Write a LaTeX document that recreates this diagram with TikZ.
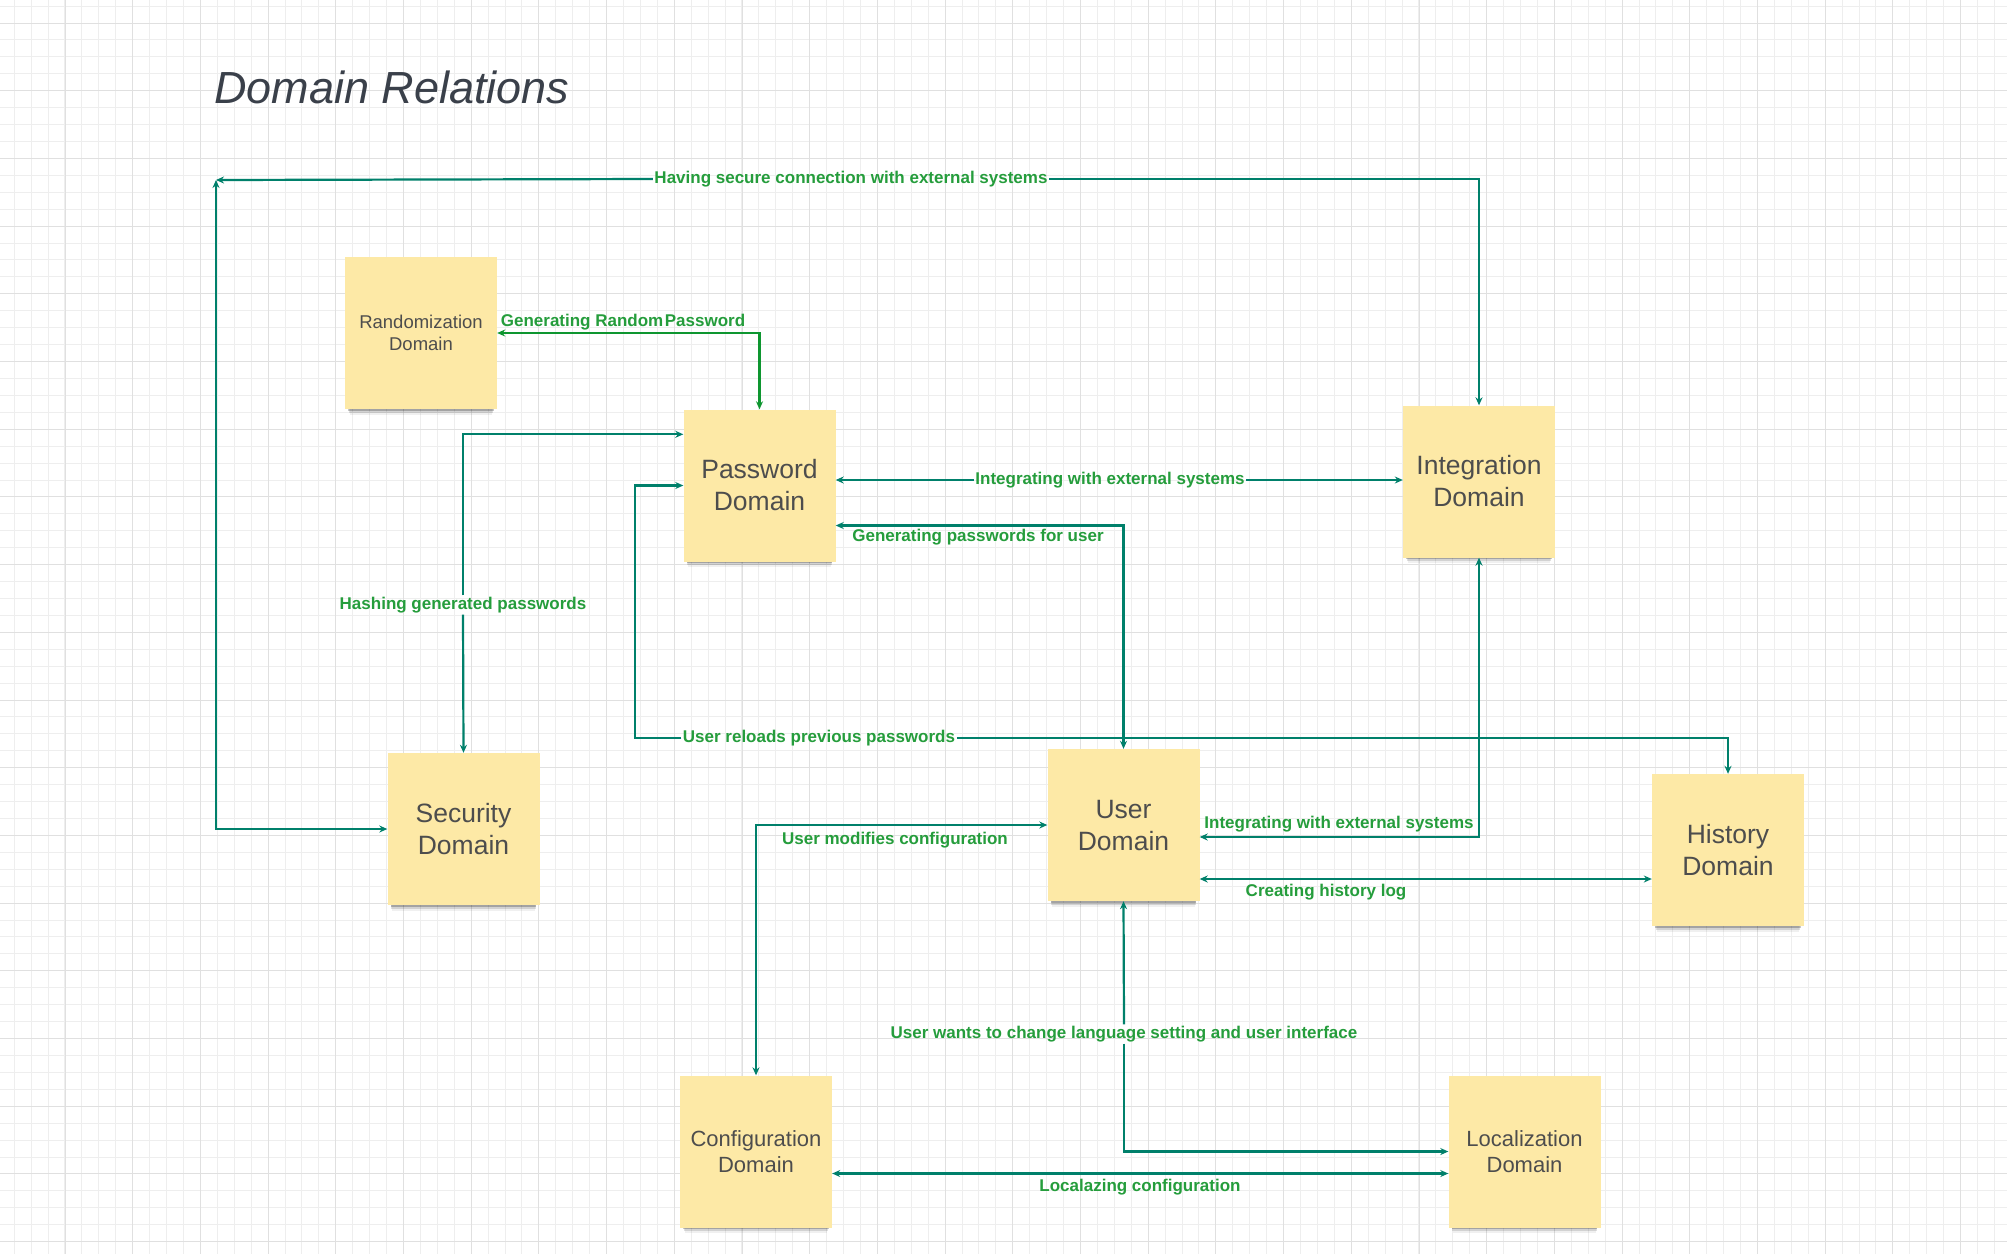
\documentclass[tikz,border=0pt]{standalone}
\usepackage{fontspec}
\setmainfont{Liberation Sans}
\usepackage{tikz}
\usetikzlibrary{arrows.meta,shadows}

\definecolor{notefill}{RGB}{253,233,166}
\definecolor{notetext}{RGB}{77,77,77}
\definecolor{titletext}{RGB}{58,64,74}
\definecolor{linkteal}{RGB}{0,128,107}
\definecolor{linkgreen}{RGB}{14,150,48}
\definecolor{lblgreen}{RGB}{37,157,60}
\definecolor{minorgrid}{RGB}{238,238,238}
\definecolor{majorgrid}{RGB}{224,224,224}

\tikzset{
    note/.style={rectangle, fill=notefill, text=notetext, align=center,
        minimum width=152pt, minimum height=152pt, inner sep=2pt,
        drop shadow={shadow scale=0.96, shadow xshift=0pt, shadow yshift=-5pt, opacity=0.22, fill=black},
        drop shadow={shadow scale=0.95, shadow xshift=0pt, shadow yshift=-8pt, opacity=0.12, fill=black},
        drop shadow={shadow scale=0.94, shadow xshift=0pt, shadow yshift=-11pt, opacity=0.06, fill=black}},
    bignote/.style={note, font=\fontsize{26.5}{32}\selectfont},
    midnote/.style={note, font=\fontsize{22}{26}\selectfont},
    smallnote/.style={note, font=\fontsize{18.5}{22}\selectfont},
    lbl/.style={text=lblgreen, font=\fontsize{17}{20}\selectfont\bfseries, inner sep=1.5pt},
    link/.style={draw=linkteal, line width=2.2pt},
    linkg/.style={draw=linkgreen, line width=2.2pt},
    >={Stealth[length=8pt,width=7pt]}
}

\begin{document}
\begin{tikzpicture}[x=1pt, y=-1pt]
    \useasboundingbox (0,0) rectangle (2007,1254);
    \fill[white] (0,0) rectangle (2007,1254);

    % Draw the grid
    \foreach \i in {0,...,117}
        \draw[minorgrid, line width=1pt] ({14.2+\i*16.925},0) -- ++(0,1254);
    \foreach \j in {0,...,73}
        \draw[minorgrid, line width=1pt] (0,{6.1+\j*16.925}) -- ++(2007,0);
    \foreach \i in {0,...,28}
        \draw[majorgrid, line width=1pt] ({65+\i*67.7},0) -- ++(0,1254);
    \foreach \j in {0,...,18}
        \draw[majorgrid, line width=1pt] (0,{23+\j*67.7}) -- ++(2007,0);

    % Title
    \node[anchor=base west, inner sep=0, text=titletext,
        font=\fontsize{45}{54}\selectfont\itshape] (title) at (214,103) {Domain Relations};

    % Domains
    \node[smallnote] (rand) at (421,333) {Randomization\\Domain};
    \node[bignote] (pass) at (759.5,485.5) {Password\\Domain};
    \node[bignote] (integ) at (1479,481.5) {Integration\\Domain};
    \node[bignote] (sec) at (463.5,829) {Security\\Domain};
    \node[bignote] (user) at (1123.5,825) {User\\Domain};
    \node[bignote] (hist) at (1728,850) {History\\Domain};
    \node[midnote] (conf) at (756,1151.5) {Configuration\\Domain};
    \node[midnote] (loc) at (1524.5,1151.5) {Localization\\Domain};

    % Secure connection
    \coordinate (tl) at (216,180);
    \node[lbl] (lsec) at (851,179) {Having secure connection with external systems};
    \draw[link,<-] (integ.north) |- (lsec.east);
    \draw[link,->] (lsec.west) -- (tl);
    \draw[link,<->] (tl) |- (sec.west);

    % Random password
    \node[lbl, anchor=south] (lrand) at (623,332) {Generating Random\kern1.5pt Password};
    \draw[linkg,<->] (pass.north) |- (rand.east);

    % Hashing
    \node[lbl] (lhash) at (463,605) {Hashing generated passwords};
    \draw[link,->] (lhash.north) |- ([yshift=-25pt]pass.north west);
    \draw[link,->] (lhash.south) -- (sec.north);

    % Password <-> integration
    \node[lbl] (lint) at (1110,480) {Integrating with external systems};
    \draw[link,->] (lint.west) -- (lint.west -| pass.east);
    \draw[link,->] (lint.east) -- (lint.east -| integ.west);

    % User asks for passwords
    \node[lbl, anchor=north] (lgen) at (978,527) {Generating passwords for user};
    \draw[link,<->] (user.north) |- ([yshift=-40pt]pass.east);

    % Reloading from history
    \coordinate (rl) at (635,738);
    \node[lbl] (lrel) at (819,738) {User reloads previous passwords};
    \draw[link,->] (lrel.west) -- (rl) |- (pass.west);
    \draw[link,->] (lrel.east) -| (hist.north);

    % User <-> integration
    \node[lbl, anchor=south] (lext) at (1339,834) {Integrating with external systems};
    \draw[link,<->] ([yshift=-12pt]user.east) -| (integ.south);

    % History log
    \node[lbl, anchor=north] (lhist) at (1326,882) {Creating history log};
    \draw[link,<->] ([yshift=-54pt]user.east) -- ([yshift=-54pt]user.east -| hist.west);

    % Configuration
    \node[lbl, anchor=north] (lconf) at (895,830) {User modifies configuration};
    \draw[link,<->] (conf.north) |- (user.west);

    % Language
    \node[lbl] (lloc) at (1124,1034) {User wants to change language setting and user interface};
    \draw[link,->] (lloc.north) -- (user.south);
    \draw[link,->] (lloc.south) |- (loc.west);

    % Localizing configuration
    \node[lbl, anchor=north] (lcfg) at (1140,1177) {Localazing configuration};
    \draw[link,<->] ([yshift=-22pt]conf.east) -- ([yshift=-22pt]conf.east -| loc.west);
\end{tikzpicture}
\end{document}
